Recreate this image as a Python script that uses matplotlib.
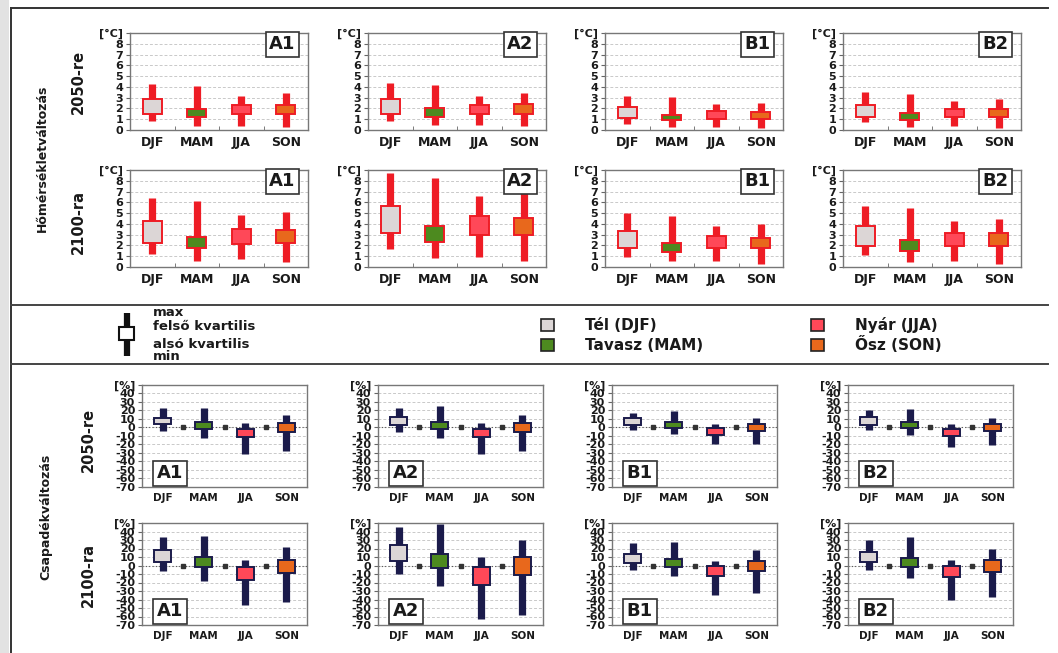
import matplotlib
matplotlib.use('Agg')
import numpy as np
import matplotlib.pyplot as plt
from matplotlib import font_manager
from matplotlib.patches import Rectangle

W, H = 1058, 653

seasons = ['DJF', 'MAM', 'JJA', 'SON']
scenarios = ['A1', 'A2', 'B1', 'B2']

# temperature change [°C]; rows A1, A2, B1, B2 ; columns DJF, MAM, JJA, SON
t50_min = [[0.80, 0.40, 0.40, 0.25], [0.80, 0.45, 0.45, 0.35],
           [0.55, 0.25, 0.25, 0.15], [0.70, 0.25, 0.37, 0.20]]
t50_q1 = [[1.45, 1.17, 1.45, 1.45], [1.50, 1.20, 1.50, 1.50],
          [1.15, 0.92, 1.02, 1.05], [1.23, 0.92, 1.17, 1.23]]
t50_q3 = [[2.85, 1.95, 2.30, 2.30], [2.90, 2.00, 2.35, 2.40],
          [2.10, 1.38, 1.78, 1.70], [2.30, 1.54, 1.97, 1.97]]
t50_max = [[4.30, 4.05, 3.15, 3.40], [4.35, 4.15, 3.20, 3.45],
           [3.15, 3.08, 2.37, 2.46], [3.54, 3.38, 2.70, 2.83]]

t00_min = [[1.20, 0.58, 0.77, 0.43], [1.68, 0.82, 0.92, 0.52],
           [0.91, 0.52, 0.52, 0.30], [1.12, 0.51, 0.60, 0.30]]
t00_q1 = [[2.25, 1.72, 2.15, 2.25], [3.15, 2.29, 2.96, 2.96],
          [1.76, 1.37, 1.76, 1.79], [1.96, 1.51, 1.96, 1.96]]
t00_q3 = [[4.25, 2.80, 3.54, 3.45], [5.65, 3.82, 4.73, 4.58],
          [3.34, 2.22, 2.83, 2.70], [3.78, 2.50, 3.11, 3.11]]
t00_max = [[6.40, 6.10, 4.83, 5.14], [8.70, 8.25, 6.56, 6.87],
           [5.00, 4.77, 3.80, 3.95], [5.65, 5.50, 4.29, 4.44]]

# precipitation change [%]
p50_min = [[-4, -12, -31, -28], [-5, -12, -31, -28],
           [-3, -8, -20, -20], [-3, -9, -23, -21]]
p50_q1 = [[3.7, -1.4, -11, -5.3], [3, -2, -11, -5],
          [3, -1, -9, -4], [3, -1, -10, -4]]
p50_q3 = [[11.5, 6.8, -2, 4.9], [12, 7, -2, 5],
          [11, 6, -1, 4], [12, 7, -2, 4]]
p50_max = [[22.5, 23, 5, 14.6], [23, 25, 5, 15],
           [17, 19, 4, 11], [20, 22, 4, 11]]

p00_min = [[-6, -18, -46, -43], [-10, -24, -63, -58],
           [-5, -12, -35, -32], [-5, -15, -40, -37]]
p00_q1 = [[4, -2, -17, -9], [5.5, -3, -23, -11],
          [3, -2, -12, -6], [4, -2, -14, -8]]
p00_q3 = [[18.5, 9.8, -1.2, 6.7], [24.4, 13.4, -2, 9.8],
          [14, 8, -1, 5], [16, 9, -1, 6]]
p00_max = [[33.4, 35, 6.7, 22], [45, 48.7, 9.8, 30],
           [26, 28, 5, 18], [30, 33, 6, 20]]

red = '#ee1c25'
navy = '#1b1b4b'
fills = ['#dcd6d6', '#4d8a1f', '#ff4858', '#e8681c']
txt = '#1a1a1a'

have = {f.name for f in font_manager.fontManager.ttflist}
narrow = next((f for f in ['Liberation Sans Narrow', 'DejaVu Sans Condensed']
               if f in have), 'DejaVu Sans')

fig = plt.figure(figsize=(W / 100, H / 100), dpi=100)


def rect(x0, y0, w, h):
    return [x0 / W, 1 - (y0 + h) / H, w / W, h / H]


# background layer in pixel coordinates: frame, legend, row labels
bg = fig.add_axes([0, 0, 1, 1])
bg.set_xlim(0, W)
bg.set_ylim(H, 0)
bg.axis('off')
bg.add_patch(Rectangle((0, 0), 9, H, fc='#e2e2e2', ec='none'))
bg.plot([11, 1048], [8, 8], color='#333', lw=1.4)
bg.plot([11, 11], [8, H], color='#333', lw=1.4)
bg.plot([11, 1048], [305, 305], color='#444', lw=1.4)
bg.plot([11, 1048], [364, 364], color='#444', lw=1.4)

# legend: box-whisker key
bg.plot([127, 127], [313, 356], color='#111', lw=4.5, solid_capstyle='butt')
bg.add_patch(Rectangle((119, 327), 15, 13, fc='white', ec='#111', lw=1.5, zorder=3))
for s, yy in [('max', 313), ('felső kvartilis', 326), ('alsó kvartilis', 345), ('min', 357)]:
    bg.text(153, yy, s, fontsize=9.5, fontweight='bold', color=txt, va='center', ha='left')

# legend: seasons
for (s, xx, yy, c) in [('Tél (DJF)', 541, 325, fills[0]), ('Tavasz (MAM)', 541, 345, fills[1]),
                       ('Nyár (JJA)', 811, 325, fills[2]), ('Ősz (SON)', 811, 345, fills[3])]:
    bg.add_patch(Rectangle((xx, yy - 6), 13, 12, fc=c, ec='#222', lw=1.2))
    bg.text(xx + 44, yy, s, fontsize=11, fontweight='bold', color=txt, va='center', ha='left')

# row and block labels
lab = dict(rotation=90, fontweight='bold', color=txt, ha='center', va='center', family=narrow)
bg.text(42, 158, 'Hőmérsékletváltozás', fontsize=9, **lab)
bg.text(78, 82, '2050-re', fontsize=10.5, **lab)
bg.text(78, 222, '2100-ra', fontsize=10.5, **lab)
bg.text(46, 517, 'Csapadékváltozás', fontsize=9, **lab)
bg.text(88, 440, '2050-re', fontsize=10.5, **lab)
bg.text(88, 575, '2100-ra', fontsize=10.5, **lab)


def style(ax, ylim, ticks, labels, xsize):
    x = np.arange(1, 5)
    ax.set_xlim(0.5, 4.5)
    ax.set_ylim(*ylim)
    ax.set_yticks(ticks)
    ax.set_yticklabels(labels, fontweight='bold', fontsize=8, color=txt)
    ax.set_xticks(x)
    ax.set_xticklabels(seasons, fontweight='bold', fontsize=xsize, color=txt)
    ax.tick_params(axis='y', length=3, width=0.8, color='#666', pad=2)
    ax.tick_params(axis='x', length=0, pad=4)
    ax.yaxis.grid(True, ls=(0, (3, 2)), color='#c9c9c9', lw=0.7)
    ax.set_axisbelow(True)
    for sp in ax.spines.values():
        sp.set_color('#777')
        sp.set_linewidth(1.0)


def boxes(ax, lo, q1, q3, hi, whisk, edge, width):
    x = np.arange(1, 5)
    ax.vlines(x, lo, hi, colors=whisk, lw=5.2, capstyle='butt', zorder=2)
    ax.bar(x, np.subtract(q3, q1), bottom=q1, width=width, color=fills,
           edgecolor=edge, lw=1.4, zorder=3)


t_left = [130, 368, 605, 843]
t_rows = [(33, t50_min, t50_q1, t50_q3, t50_max), (170, t00_min, t00_q1, t00_q3, t00_max)]
for top, lo, q1, q3, hi in t_rows:
    for i, name in enumerate(scenarios):
        ax = fig.add_axes(rect(t_left[i], top, 178, 97))
        style(ax, (0, 9), range(10), [str(v) for v in range(9)] + ['[°C]'], 9)
        ax.set_xticks([1.5, 2.5, 3.5], minor=True)
        ax.tick_params(axis='x', which='minor', direction='in', length=3, color='#666')
        boxes(ax, lo[i], q1[i], q3[i], hi[i], red, red, 0.42)
        ax.text(0.93, 0.885, name, transform=ax.transAxes, ha='right', va='center',
                fontsize=13, fontweight='bold', color=txt,
                bbox=dict(boxstyle='square,pad=0.2', fc='white', ec='#333', lw=1.2))

p_left = [142, 378, 612, 848]
p_rows = [(385, p50_min, p50_q1, p50_q3, p50_max), (523, p00_min, p00_q1, p00_q3, p00_max)]
p_ticks = list(range(-70, 51, 10))
for top, lo, q1, q3, hi in p_rows:
    for i, name in enumerate(scenarios):
        ax = fig.add_axes(rect(p_left[i], top, 165, 102))
        style(ax, (-70, 50), p_ticks, [str(v) for v in p_ticks[:-1]] + ['[%]'], 7.5)
        ax.axhline(0, color='#555', lw=0.8, ls=(0, (1, 2)), zorder=1)
        ax.plot([1.5, 2.5, 3.5], [0, 0, 0], ls='none', marker='s', ms=2.2, color='#333', zorder=1)
        boxes(ax, lo[i], q1[i], q3[i], hi[i], navy, navy, 0.41)
        ax.text(0.09, 0.135, name, transform=ax.transAxes, ha='left', va='center',
                fontsize=13, fontweight='bold', color=txt,
                bbox=dict(boxstyle='square,pad=0.2', fc='white', ec='#333', lw=1.2))

fig.savefig('out.png', dpi=100)
